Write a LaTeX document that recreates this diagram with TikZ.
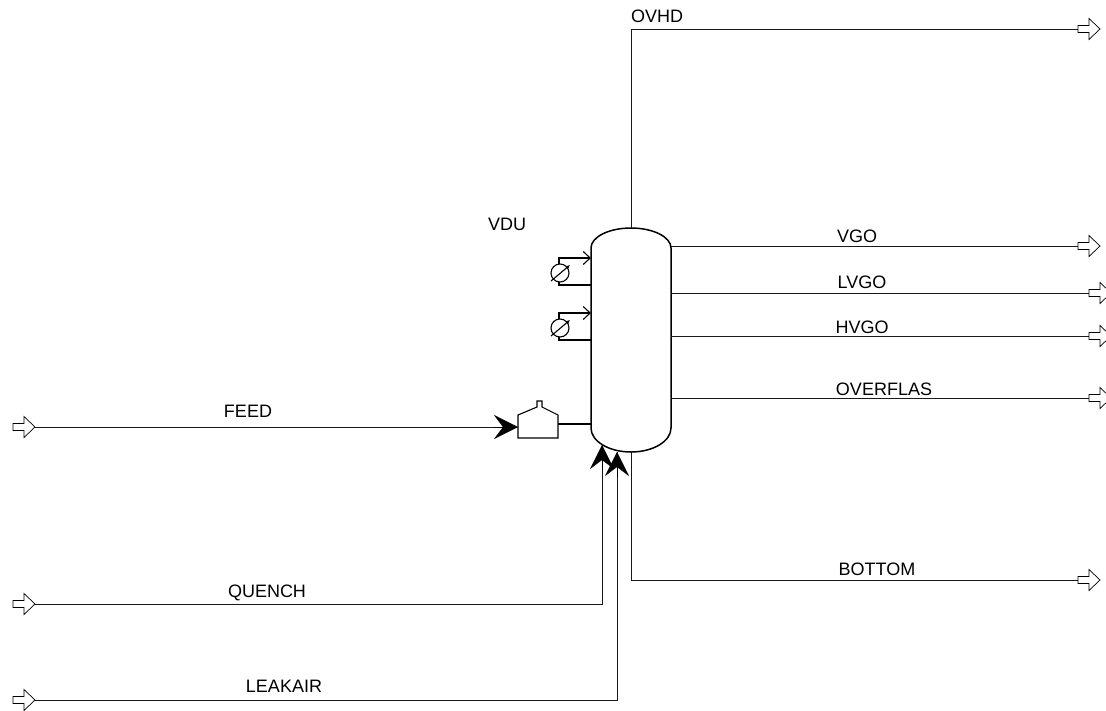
\documentclass[tikz,border=0pt]{standalone}
\usepackage{fontspec}
\setmainfont{Liberation Sans}
\usetikzlibrary{arrows.meta}
\begin{document}
\begin{tikzpicture}[x=1pt,y=-1pt,
  stream/.style={line width=0.8pt, draw=black!90},
  vessel/.style={line width=1.5pt, draw=black},
  equip/.style={line width=1.1pt, draw=black},
  lbl/.style={font=\fontsize{18}{20}\selectfont, inner sep=0pt},
  feedtip/.style={-{Stealth[length=24pt,width=24pt,inset=9pt]}},
  barbtip/.style={-{Straight Barb[length=7pt,width=13pt]}},
  pics/blockarrow/.style={code={\draw[line width=0.7pt, fill=white] (0,-3.5) -- (11,-3.5) -- (11,-10.5) -- (22,0) -- (11,10.5) -- (11,3.5) -- (0,3.5) -- cycle;}}
]
\useasboundingbox (0,0) rectangle (1106,710);

% column
\draw[vessel] (591,248) -- (591,428) arc[start angle=180, end angle=360, x radius=40pt, y radius=24pt] -- (671,248) arc[start angle=0, end angle=180, x radius=40pt, y radius=20pt] -- cycle;
\coordinate (colTop) at (631,228);
\coordinate (colBot) at (631,452);
\node[lbl] (vdu) at (507,224) {VDU};

% outlet terminals
\coordinate (ovhdEnd) at (1078,29);
\coordinate (vgoStart) at (671,246);  \coordinate (vgoEnd) at (1078,246);
\coordinate (lvgoStart) at (671,293); \coordinate (lvgoEnd) at (1089,293);
\coordinate (hvgoStart) at (671,336); \coordinate (hvgoEnd) at (1089,336);
\coordinate (ovfStart) at (671,398);  \coordinate (ovfEnd) at (1089,398);
\coordinate (botEnd) at (1078,580);

\draw[stream] (colTop) |- (ovhdEnd);
\draw[stream] (vgoStart) -- (vgoEnd);
\draw[stream] (lvgoStart) -- (lvgoEnd);
\draw[stream] (hvgoStart) -- (hvgoEnd);
\draw[stream] (ovfStart) -- (ovfEnd);
\draw[stream] (colBot) |- (botEnd);
\foreach \t in {ovhdEnd,vgoEnd,lvgoEnd,hvgoEnd,ovfEnd,botEnd} \pic at (\t) {blockarrow};

\node[lbl] (lovhd) at (657,16) {OVHD};
\node[lbl] (lvgo) at (857,236) {VGO};
\node[lbl] (llvgo) at (862,282) {LVGO};
\node[lbl] (lhvgo) at (862,327) {HVGO};
\node[lbl] (lovf) at (884,389) {OVERFLAS};
\node[lbl] (lbot) at (877,569) {BOTTOM};

% inlet terminals
\coordinate (feedSrc) at (13,427);
\coordinate (quenchSrc) at (13,604);
\coordinate (leakSrc) at (13,700);
\foreach \t in {feedSrc,quenchSrc,leakSrc} \pic at (\t) {blockarrow};
\coordinate (feedStart) at (35,427);
\coordinate (quenchStart) at (35,604);
\coordinate (leakStart) at (35,700);

% feed drum
\draw[equip] (518,438) -- (518,415) -- (537,407) -- (537,401) -- (542,401) -- (542,407) -- (558,415) -- (558,438) -- cycle;
\coordinate (drumIn) at (518,427);
\coordinate (drumOut) at (558,424);
\coordinate (colFeed) at (591,424);
\draw[stream] (feedStart) -- (drumIn);
\draw[feedtip] (494,427) -- (drumIn);
\draw[equip] (drumOut) -- (colFeed);

% quench and leak air
\coordinate (quenchIn) at (602,445);
\coordinate (leakIn) at (617,452);
\draw[stream] (quenchStart) -| (quenchIn);
\draw[stream] (leakStart) -| (leakIn);
\draw[feedtip] (602,470) -- (quenchIn);
\draw[feedtip] (617,477) -- (leakIn);

\node[lbl] (lfeed) at (248,411) {FEED};
\node[lbl] (lquench) at (267,593) {QUENCH};
\node[lbl] (lleak) at (284,686) {LEAKAIR};

% pumparound heaters
\foreach \t/\c/\b in {258/273/285, 313/328/340} {
  \draw[equip,barbtip] (559,\c-9) -- (559,\t) -- (591,\t);
  \draw[equip] (559,\c+9) -- (559,\b) -- (591,\b);
  \draw[equip] (560,\c) circle[radius=9pt];
  \draw[equip,-{Latex[length=4pt,width=4pt]}] (551,\c+8) -- (570,\c-8);
}
\end{tikzpicture}
\end{document}
